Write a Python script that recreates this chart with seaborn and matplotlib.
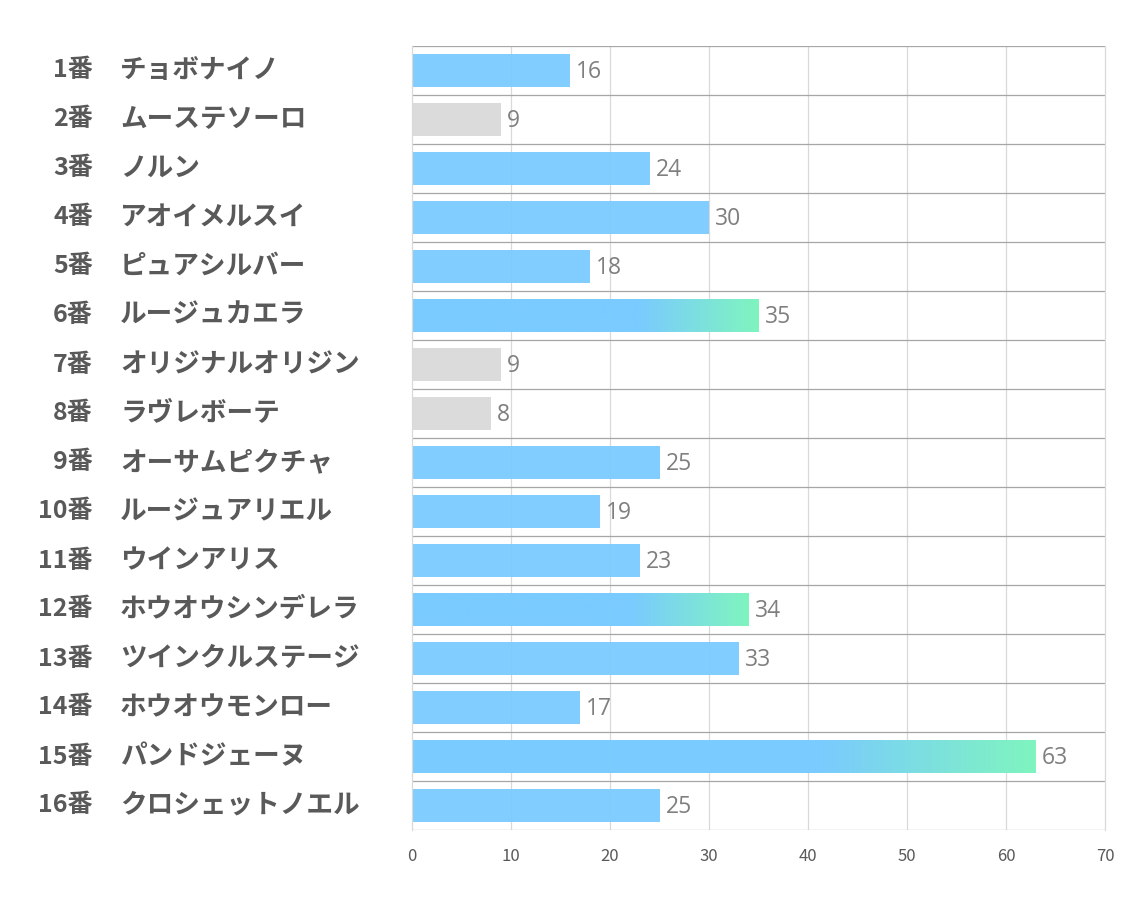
import numpy as np
import pandas as pd
import matplotlib
matplotlib.use("Agg")
import matplotlib.pyplot as plt
import matplotlib.transforms as mtransforms
from matplotlib.colors import LinearSegmentedColormap
import seaborn as sns

numbers = ["1番", "2番", "3番", "4番", "5番", "6番", "7番", "8番",
           "9番", "10番", "11番", "12番", "13番", "14番", "15番", "16番"]
names = ["チョボナイノ", "ムーステソーロ", "ノルン", "アオイメルスイ", "ピュアシルバー",
         "ルージュカエラ", "オリジナルオリジン", "ラヴレボーテ", "オーサムピクチャ",
         "ルージュアリエル", "ウインアリス", "ホウオウシンデレラ", "ツインクルステージ",
         "ホウオウモンロー", "パンドジェーヌ", "クロシェットノエル"]
values = [16, 9, 24, 30, 18, 35, 9, 8, 25, 19, 23, 34, 33, 17, 63, 25]
groups = ["blue", "gray", "blue", "blue", "blue", "top", "gray", "gray",
          "blue", "blue", "blue", "top", "blue", "blue", "top", "blue"]
xticks = [0, 10, 20, 30, 40, 50, 60, 70]

BLUE = "#7ACBFF"
GREEN = "#7FF7BC"
GRAY = "#D9D9D9"
palette = {"blue": BLUE, "gray": GRAY, "top": BLUE}

sns.set_theme(style="white")
plt.rcParams["font.family"] = ["Noto Sans CJK JP", "DejaVu Sans"]

df = pd.DataFrame({"label": [f"{n} {m}" for n, m in zip(numbers, names)],
                   "value": values, "group": groups})

fig = plt.figure(figsize=(11.34, 9.07), dpi=100)
ax = fig.add_axes([412 / 1134, 1 - 830 / 907, (1105 - 412) / 1134, (830 - 46) / 907])

sns.barplot(data=df, x="value", y="label", hue="group", palette=palette,
            orient="h", width=0.66, dodge=False, legend=False, ax=ax,
            alpha=0.95, linewidth=0, saturation=1)

ax.set_xlim(0, 70)
ax.set_ylim(len(values) - 0.5, -0.5)
ax.set_xticks(xticks)
ax.set_xticklabels([str(t) for t in xticks], fontsize=12, color="#595959")
ax.tick_params(axis="x", length=0, pad=13)
ax.set_yticks([])
ax.set_xlabel("")
ax.set_ylabel("")

# vertical grid
for t in xticks[1:-1]:
    ax.axvline(t, color="#D9D9D9", lw=0.9, zorder=0)
# row separators
for i in range(len(values) + 1):
    ax.axhline(i - 0.5, color="#A6A6A6", lw=0.9, zorder=0.5)
for s in ["top", "bottom"]:
    ax.spines[s].set_visible(False)
ax.spines["left"].set_color("#D9D9D9")
ax.spines["right"].set_color("#D9D9D9")
ax.spines["left"].set_linewidth(0.9)
ax.spines["right"].set_linewidth(0.9)

# gradient overlay for top bars
cmap = LinearSegmentedColormap.from_list("bg", [BLUE, GREEN])
patches = sorted(ax.patches, key=lambda p: p.get_y())
for p, v, g in zip(patches, values, groups):
    if g == "top":
        x0, y0, w, h = p.get_x(), p.get_y(), p.get_width(), p.get_height()
        start = 0.65
        n0 = int(start * 200)
        grad = np.concatenate([np.zeros(n0), np.linspace(0, 1, 200 - n0)])
        im = ax.imshow(grad[np.newaxis, :], cmap=cmap, aspect="auto",
                       extent=[x0, x0 + w, y0 + h, y0], zorder=p.get_zorder() + 0.1,
                       alpha=0.95, interpolation="bilinear")
        im.set_clip_path(p)
ax.set_xlim(0, 70)
ax.set_ylim(len(values) - 0.5, -0.5)

# value labels
for i, v in enumerate(values):
    ax.text(v + 0.6, i + 0.04, str(v), va="center", ha="left", fontsize=16.5,
            color="#7F7F7F", family=["Open Sans", "DejaVu Sans"])

# row labels
trans = mtransforms.blended_transform_factory(fig.transFigure, ax.transData)
for i, (n, m) in enumerate(zip(numbers, names)):
    ax.text(93 / 1134, i, n, transform=trans, ha="right", va="center",
            fontsize=18, fontweight="bold", color="#595959")
    ax.text(120 / 1134, i, m, transform=trans, ha="left", va="center",
            fontsize=19.2, fontweight="bold", color="#595959")

fig.savefig("out.png", dpi=100)
